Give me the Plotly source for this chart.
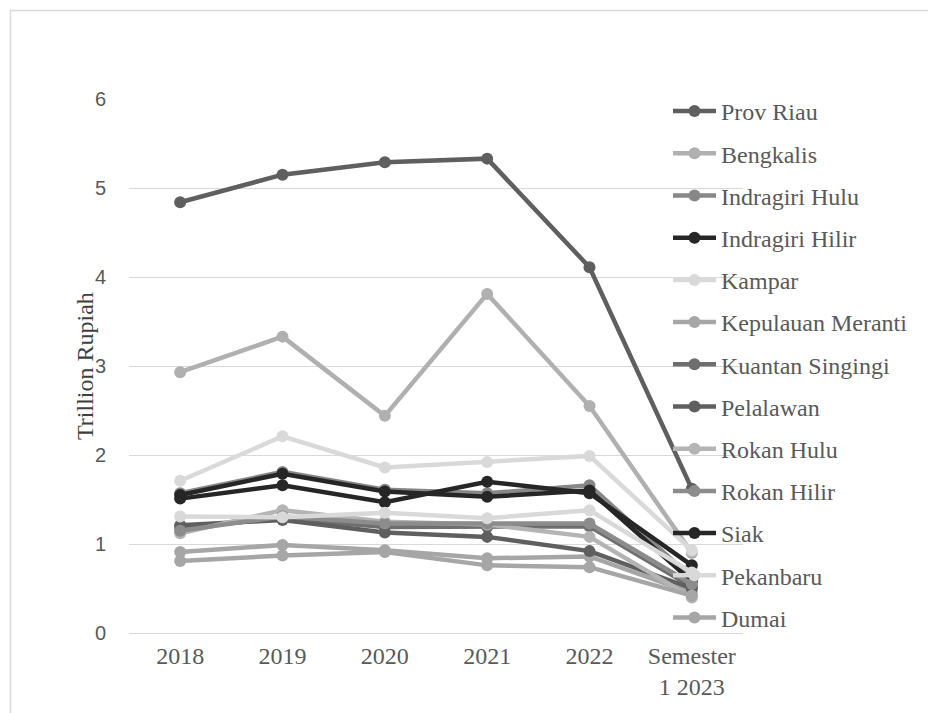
import plotly.graph_objects as go

categories = ["2018", "2019", "2020", "2021", "2022", "Semester<br>1 2023"]

series_names = ["Prov Riau", "Bengkalis", "Indragiri Hulu", "Indragiri Hilir", "Kampar",
                "Kepulauan Meranti", "Kuantan Singingi", "Pelalawan", "Rokan Hulu",
                "Rokan Hilir", "Siak", "Pekanbaru", "Dumai"]

prov_riau = [4.84, 5.15, 5.29, 5.33, 4.11, 1.62]
bengkalis = [2.93, 3.33, 2.44, 3.81, 2.55, 0.90]
indragiri_hulu = [1.57, 1.81, 1.61, 1.57, 1.66, 0.62]
indragiri_hilir = [1.55, 1.79, 1.59, 1.53, 1.60, 0.58]
kampar = [1.71, 2.21, 1.86, 1.92, 1.99, 0.93]
kepulauan_meranti = [0.91, 0.99, 0.93, 0.84, 0.86, 0.45]
kuantan_singingi = [1.18, 1.29, 1.19, 1.19, 1.20, 0.52]
pelalawan = [1.21, 1.27, 1.13, 1.08, 0.92, 0.50]
rokan_hulu = [1.12, 1.38, 1.25, 1.22, 1.08, 0.40]
rokan_hilir = [1.15, 1.31, 1.23, 1.23, 1.23, 0.55]
siak = [1.51, 1.66, 1.47, 1.70, 1.57, 0.76]
pekanbaru = [1.31, 1.30, 1.35, 1.29, 1.38, 0.68]
dumai = [0.81, 0.87, 0.91, 0.76, 0.74, 0.42]

values = [prov_riau, bengkalis, indragiri_hulu, indragiri_hilir, kampar, kepulauan_meranti,
          kuantan_singingi, pelalawan, rokan_hulu, rokan_hilir, siak, pekanbaru, dumai]

colors = ["#5f5f5f", "#b0b0b0", "#878787", "#262626", "#d9d9d9", "#a6a6a6",
          "#6e6e6e", "#5f5f5f", "#b4b4b4", "#8c8c8c", "#262626", "#d9d9d9", "#a6a6a6"]

fig = go.Figure()
for i, (name, vals, col) in enumerate(zip(series_names, values, colors)):
    fig.add_trace(go.Scatter(
        x=categories, y=vals, name=name, mode="lines+markers",
        line=dict(color=col, width=4.5),
        marker=dict(color=col, size=12),
        legendgroup="g%d" % i,
    ))

L, R, T, B = 129, 185, 99, 80
W, H = 928, 713
pw = W - L - R
ph = H - T - B

def px_x(px):
    return (px - L) / pw

def px_y(py):
    return (H - B - py) / ph

fig.update_layout(
    width=W, height=H,
    margin=dict(l=L, r=R, t=T, b=B),
    paper_bgcolor="white", plot_bgcolor="white",
    xaxis=dict(type="category", range=[-0.5, 5.5], showgrid=False, showline=False,
               ticks="", zeroline=False,
               tickfont=dict(family="Liberation Serif", size=24, color="#595959"),
               ticklabelstandoff=6),
    yaxis=dict(range=[0, 6], dtick=1, showgrid=True, gridcolor="#d9d9d9", gridwidth=1,
               zeroline=True, zerolinecolor="#d9d9d9", zerolinewidth=1, showline=False,
               ticks="", tickfont=dict(family="Liberation Sans", size=20, color="#595959"),
               ticklabelstandoff=22),
    legend=dict(x=px_x(668), xanchor="left", y=px_y(89), yanchor="top",
                font=dict(family="Liberation Serif", size=24, color="#595959"),
                bgcolor="rgba(0,0,0,0)", tracegroupgap=8, itemwidth=43,
                traceorder="grouped", maxheight=700),
    showlegend=True,
    annotations=[dict(text="Trillion Rupiah", x=px_x(85), y=0.5, xref="paper", yref="paper",
                      textangle=-90, showarrow=False, xanchor="center", yanchor="middle",
                      font=dict(family="Liberation Serif", size=24, color="#3f3f3f"))],
    shapes=[
        dict(type="line", xref="paper", yref="paper", x0=px_x(10), x1=px_x(1000),
             y0=px_y(10.5), y1=px_y(10.5), line=dict(color="#d9d9d9", width=1.5)),
        dict(type="line", xref="paper", yref="paper", x0=px_x(10.5), x1=px_x(10.5),
             y0=px_y(10), y1=px_y(800), line=dict(color="#d9d9d9", width=1.5)),
    ],
)

fig.write_html("out.html")
